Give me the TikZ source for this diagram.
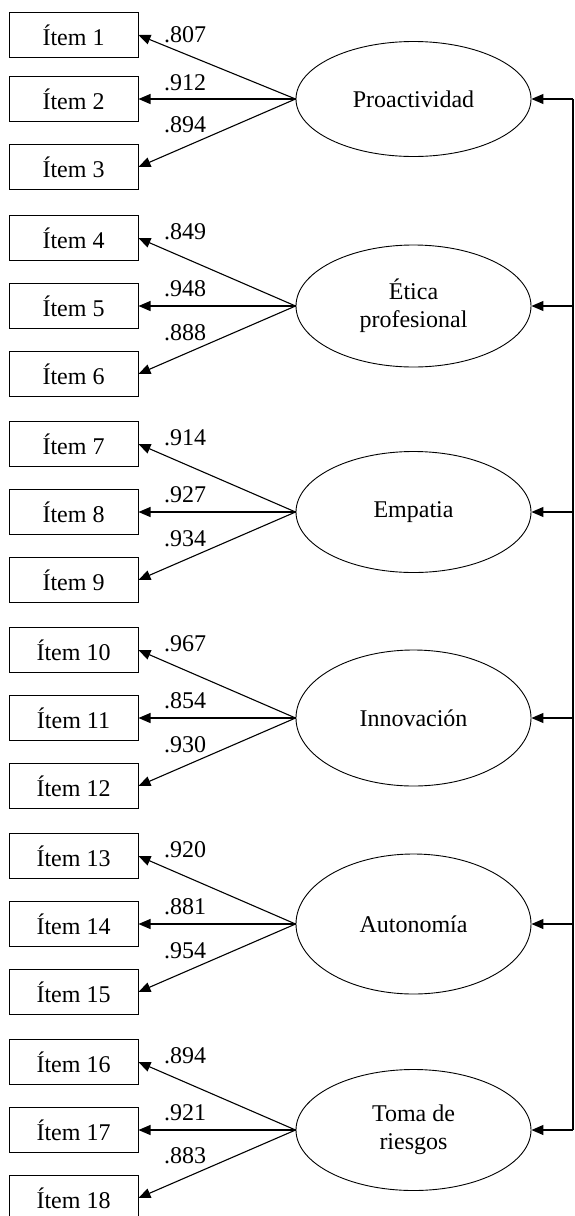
\documentclass[tikz,border=0pt]{standalone}
\usepackage{fontspec}
\setmainfont{Liberation Serif}
\usepackage{tikz}
\usetikzlibrary{shapes,arrows.meta}

\begin{document}
\begin{tikzpicture}[x=1pt,y=-1pt,
	every node/.style={font=\fontsize{24}{28}\selectfont},
	item/.style={draw,line width=1pt,minimum width=129,minimum height=45,inner sep=0pt},
	factor/.style={draw,ellipse,line width=0.9pt,minimum width=235,align=center,inner sep=0pt},
	load/.style={inner sep=0pt},
	loadarrow/.style={-{Triangle[length=12pt,width=10pt]},line width=1.1pt}]

\useasboundingbox (0,0) rectangle (574,1216);

\node (item1)	at (73.5,35)	[item] {Ítem 1};
\node (item2)	at (73.5,99)	[item] {Ítem 2};
\node (item3)	at (73.5,167)	[item] {Ítem 3};
\node (proact)	at (413.5,99)	[factor,minimum height=115] {Proactividad};
\draw [loadarrow] (proact.west) -- (item1.east);
\draw [loadarrow] (proact.west) -- (item2.east);
\draw [loadarrow] (proact.west) -- (item3.east);
\node (lab1)	at (185,35)	[load] {.807};
\node (lab2)	at (185,83)	[load] {.912};
\node (lab3)	at (185,125)	[load] {.894};

\node (item4)	at (73.5,238)	[item] {Ítem 4};
\node (item5)	at (73.5,306)	[item] {Ítem 5};
\node (item6)	at (73.5,374)	[item] {Ítem 6};
\node (etica)	at (413.5,306)	[factor,minimum height=122] {Ética\\profesional};
\draw [loadarrow] (etica.west) -- (item4.east);
\draw [loadarrow] (etica.west) -- (item5.east);
\draw [loadarrow] (etica.west) -- (item6.east);
\node (lab4)	at (185,232)	[load] {.849};
\node (lab5)	at (185,289)	[load] {.948};
\node (lab6)	at (185,333)	[load] {.888};

\node (item7)	at (73.5,444)	[item] {Ítem 7};
\node (item8)	at (73.5,512)	[item] {Ítem 8};
\node (item9)	at (73.5,580)	[item] {Ítem 9};
\node (empatia)	at (413.5,512)	[factor,minimum height=121] {Empatia};
\draw [loadarrow] (empatia.west) -- (item7.east);
\draw [loadarrow] (empatia.west) -- (item8.east);
\draw [loadarrow] (empatia.west) -- (item9.east);
\node (lab7)	at (185,438)	[load] {.914};
\node (lab8)	at (185,495)	[load] {.927};
\node (lab9)	at (185,539)	[load] {.934};

\node (item10)	at (73.5,650)	[item] {Ítem 10};
\node (item11)	at (73.5,718)	[item] {Ítem 11};
\node (item12)	at (73.5,786)	[item] {Ítem 12};
\node (innov)	at (413.5,718)	[factor,minimum height=136] {Innovación};
\draw [loadarrow] (innov.west) -- (item10.east);
\draw [loadarrow] (innov.west) -- (item11.east);
\draw [loadarrow] (innov.west) -- (item12.east);
\node (lab10)	at (185,644)	[load] {.967};
\node (lab11)	at (185,701)	[load] {.854};
\node (lab12)	at (185,745)	[load] {.930};

\node (item13)	at (73.5,856)	[item] {Ítem 13};
\node (item14)	at (73.5,924)	[item] {Ítem 14};
\node (item15)	at (73.5,992)	[item] {Ítem 15};
\node (auton)	at (413.5,924)	[factor,minimum height=140] {Autonomía};
\draw [loadarrow] (auton.west) -- (item13.east);
\draw [loadarrow] (auton.west) -- (item14.east);
\draw [loadarrow] (auton.west) -- (item15.east);
\node (lab13)	at (185,850)	[load] {.920};
\node (lab14)	at (185,907)	[load] {.881};
\node (lab15)	at (185,951)	[load] {.954};

\node (item16)	at (73.5,1062)	[item] {Ítem 16};
\node (item17)	at (73.5,1130)	[item] {Ítem 17};
\node (item18)	at (73.5,1198)	[item] {Ítem 18};
\node (riesgo)	at (413.5,1130)	[factor,minimum height=121] {Toma de\\riesgos};
\draw [loadarrow] (riesgo.west) -- (item16.east);
\draw [loadarrow] (riesgo.west) -- (item17.east);
\draw [loadarrow] (riesgo.west) -- (item18.east);
\node (lab16)	at (185,1056)	[load] {.894};
\node (lab17)	at (185,1113)	[load] {.921};
\node (lab18)	at (185,1156)	[load] {.883};

\coordinate (bus1) at (573,99);
\coordinate (bus2) at (573,306);
\coordinate (bus3) at (573,512);
\coordinate (bus4) at (573,718);
\coordinate (bus5) at (573,924);
\coordinate (bus6) at (573,1130);
\draw [line width=1.1pt] (bus1) -- (bus6);
\draw [loadarrow] (bus1) -- (proact.east);
\draw [loadarrow] (bus2) -- (etica.east);
\draw [loadarrow] (bus3) -- (empatia.east);
\draw [loadarrow] (bus4) -- (innov.east);
\draw [loadarrow] (bus5) -- (auton.east);
\draw [loadarrow] (bus6) -- (riesgo.east);

\end{tikzpicture}
\end{document}
